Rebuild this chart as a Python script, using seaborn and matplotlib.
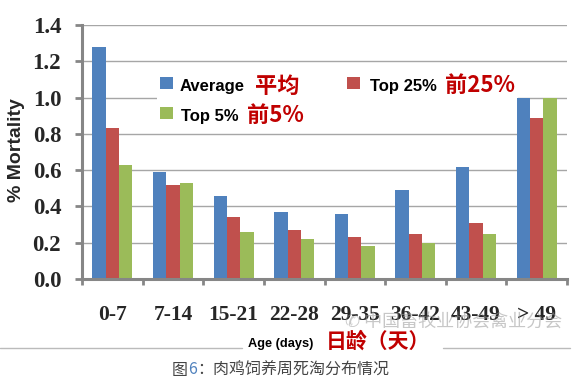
import matplotlib
matplotlib.use("Agg")
import matplotlib.pyplot as plt
import seaborn as sns
import pandas as pd
from matplotlib.patches import Rectangle
from matplotlib.lines import Line2D

categories = ["0-7", "7-14", "15-21", "22-28", "29-35", "36-42", "43-49", "> 49"]
average = [1.28, 0.59, 0.46, 0.37, 0.36, 0.49, 0.62, 1.00]
top25 = [0.83, 0.52, 0.34, 0.27, 0.23, 0.25, 0.31, 0.89]
top5 = [0.63, 0.53, 0.26, 0.22, 0.18, 0.20, 0.25, 1.00]
series_names = ["Average", "Top 25%", "Top 5%"]
yticks = [0.0, 0.2, 0.4, 0.6, 0.8, 1.0, 1.2, 1.4]

rows = []
for name, vals in zip(series_names, [average, top25, top5]):
    for c, v in zip(categories, vals):
        rows.append({"Age": c, "Series": name, "Mortality": v})
df = pd.DataFrame(rows)

sns.set_theme(style="white")
plt.rcParams['font.family'] = ['Liberation Sans', 'Noto Sans CJK SC', 'DejaVu Sans']

W, H = 584, 379
fig = plt.figure(figsize=(W / 100, H / 100), dpi=100)
fig.patch.set_facecolor("white")

def fx(px):
    return px / W

def fy(py):
    return 1 - py / H

ax = fig.add_axes([fx(82), fy(279), fx(567) - fx(82), fy(25) - fy(279)])
palette = {"Average": "#4F81BD", "Top 25%": "#C0504D", "Top 5%": "#9BBB59"}
sns.barplot(data=df, x="Age", y="Mortality", hue="Series", hue_order=series_names,
            order=categories, palette=palette, width=0.66, saturation=1,
            edgecolor="none", linewidth=0, ax=ax, legend=False)

ax.set_xlim(-0.5, len(categories) - 0.5)
ax.set_ylim(0, 1.4)
ax.set_axisbelow(True)
ax.yaxis.grid(True, color="#A6A6A6", linewidth=1.0)
ax.xaxis.grid(False)
ax.set_facecolor("white")

for s in ["top", "right"]:
    ax.spines[s].set_visible(False)
for s in ["left", "bottom"]:
    ax.spines[s].set_color("#868686")
    ax.spines[s].set_linewidth(2.2)

ax.set_yticks(yticks)
ax.set_yticklabels([f"{t:.1f}" for t in yticks], fontfamily="Liberation Serif",
                   fontweight="bold", fontsize=16.5)
ax.tick_params(axis="y", left=True, length=5, width=2, color="#868686", pad=10)

ax.set_xticks(range(len(categories)))
ax.set_xticklabels(categories, fontfamily="Liberation Serif", fontweight="bold", fontsize=15.5)
ax.set_xticks([i - 0.5 for i in range(len(categories) + 1)], minor=True)
ax.tick_params(axis="x", which="major", length=0, pad=19)
ax.tick_params(axis="x", which="minor", bottom=True, length=4, width=2, color="#868686")

ax.set_xlabel("")
ax.set_ylabel("")

# y label
fig.text(fx(17), fy(150), "% Mortality", rotation=90, ha="center", va="center",
         fontsize=14, fontweight="bold", family="Liberation Sans")

# legend background
ax.add_patch(Rectangle((fx(157), fy(127)), fx(518) - fx(157), fy(70) - fy(127),
                       transform=fig.transFigure, facecolor="white", edgecolor="none",
                       zorder=0.8))

red_txt = "#C00000"
leg = [
    ("#4F81BD", 160, 83, "Average", 180, 87, "平均", 255, 86),
    ("#9BBB59", 160, 113, "Top 5%", 181, 116, "前5%", 247, 115),
    ("#C0504D", 347, 83, "Top 25%", 370, 87, "前25%", 445, 85),
]
for col, sx, sy, lab, tx, ty, zh, zx, zy in leg:
    fig.add_artist(Rectangle((fx(sx), fy(sy + 6)), fx(13), 12 / H,
                             transform=fig.transFigure, facecolor=col, edgecolor="none"))
    fig.text(fx(tx), fy(ty), lab, ha="left", va="center", fontsize=12,
             fontweight="bold", family="Liberation Sans", color="black")
    fig.text(fx(zx), fy(zy), zh, ha="left", va="center", fontsize=16,
             fontweight="bold", family=["Noto Sans CJK SC", "DejaVu Sans"], color=red_txt)

# x axis label
fig.text(fx(248), fy(344), "Age (days)", ha="left", va="center", fontsize=9.2,
         fontweight="bold", family="Liberation Sans", color="black")
fig.text(fx(326), fy(341), "日龄（天）", ha="left", va="center", fontsize=15,
         fontweight="bold", family=["Noto Sans CJK SC", "DejaVu Sans"], color=red_txt)

# watermark
fig.text(fx(345), fy(322), "✆ 中国畜牧业协会禽业分会", ha="left", va="center", fontsize=13,
         family=["Noto Sans CJK SC", "DejaVu Sans"], color="#9a9a9a", alpha=0.55)

# frame artifacts
fig.add_artist(Line2D([fx(0), fx(242)], [fy(348), fy(348)], transform=fig.transFigure,
                      color="#bbbbbb", linewidth=1))
fig.add_artist(Line2D([fx(443), fx(570)], [fy(348), fy(348)], transform=fig.transFigure,
                      color="#bbbbbb", linewidth=1))

# caption with blue "6"
cap_kw = dict(ha="left", va="center", fontsize=11.5,
              family=["Noto Sans CJK SC", "DejaVu Sans"])
renderer = fig.canvas.get_renderer()
x0 = fx(172)
parts = [("图", "#444444"), ("6", "#4F81BD"), ("：肉鸡饲养周死淘分布情况", "#444444")]
for txt, col in parts:
    t = fig.text(x0, fy(370), txt, color=col, **cap_kw)
    bb = t.get_window_extent(renderer=renderer)
    x0 += bb.width / W

fig.savefig("out.png", dpi=100, facecolor="white")
